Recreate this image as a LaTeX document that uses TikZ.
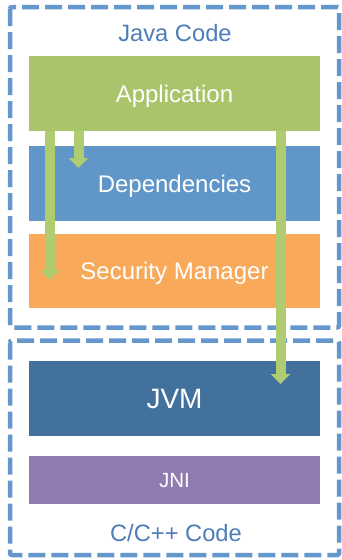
\documentclass[tikz,border=0pt]{standalone}
\usepackage{fontspec}
\setmainfont{Liberation Sans}
\usetikzlibrary{arrows.meta}
\definecolor{appgreen}{RGB}{169,196,106}
\definecolor{arrowgreen}{RGB}{176,204,112}
\definecolor{depblue}{RGB}{96,150,200}
\definecolor{secorange}{RGB}{248,169,90}
\definecolor{jvmblue}{RGB}{66,113,158}
\definecolor{jnipurple}{RGB}{145,122,175}
\definecolor{dashblue}{RGB}{100,151,203}
\definecolor{labelblue}{RGB}{78,125,185}
\begin{document}
\begin{tikzpicture}[x=1pt,y=-1pt,
  layer/.style={rectangle, inner sep=0pt, minimum width=291pt, text=white, text depth=0pt, font=\fontsize{24}{27}\selectfont},
  group/.style={draw=dashblue, line width=4.5pt, dash pattern=on 17pt off 6pt, rounded corners=2pt},
  grouplabel/.style={text=labelblue, inner sep=0pt, text depth=0pt, font=\fontsize{23.7}{27}\selectfont},
  flow/.style={draw=arrowgreen, line width=10pt, -{Triangle[width=19pt,length=10pt]}}]
\useasboundingbox (0,0) rectangle (342,560);
\fill[white] (0,0) rectangle (342,560);
% groups
\draw[group] (10,7) rectangle (339,327.5);
\draw[group] (10,340.5) rectangle (339,555);
\node[grouplabel] (javalbl) at (175,33) {Java Code};
\node[grouplabel] (clbl) at (176,532.5) {C/C++ Code};
% layers
\node[layer, fill=appgreen, minimum height=75pt] (app) at (174.5,93.5) {Application};
\node[layer, fill=depblue, minimum height=75pt] (dep) at (174.5,183.5) {Dependencies};
\node[layer, fill=secorange, minimum height=74pt] (sec) at (174.5,271) {Security Manager};
\node[layer, fill=jvmblue, minimum height=75pt, font=\fontsize{28}{32}\selectfont] (jvm) at (174.5,398.5) {JVM};
\node[layer, fill=jnipurple, minimum height=48pt, font=\fontsize{20.5}{23}\selectfont] (jni) at (174.5,480) {JNI};
% arrows
\coordinate (t1) at (50,280);
\coordinate (t2) at (78.5,168);
\coordinate (t3) at (280.5,384);
\draw[flow] (app.south -| t1) -- (t1);
\draw[flow] (app.south -| t2) -- (t2);
\draw[flow] (app.south -| t3) -- (t3);
\end{tikzpicture}
\end{document}
